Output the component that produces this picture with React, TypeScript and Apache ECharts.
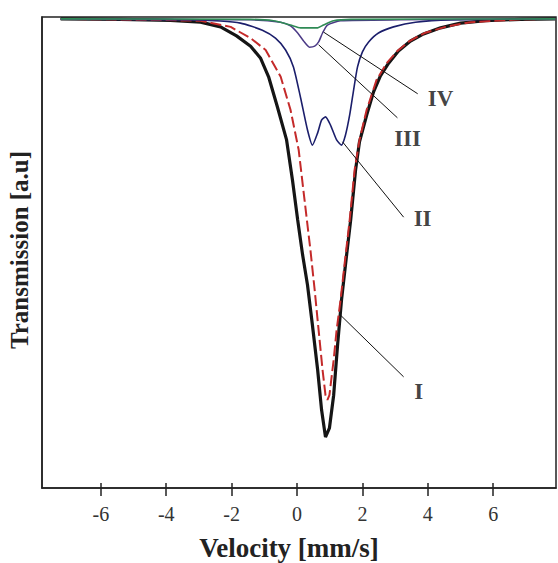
import React, { useEffect, useRef } from "react";
import * as echarts from "echarts";

// Curve I (black, thick)
const vI = [-7.23,-5.40,-3.87,-2.95,-2.34,-1.85,-1.42,-1.12,-0.87,-0.60,-0.32,-0.14,0.02,0.17,0.32,0.47,0.63,0.75,0.87,0.99,1.12,1.24,1.36,1.48,1.64,1.79,1.91,2.13,2.34,2.55,2.80,3.10,3.47,3.87,4.39,5.00,5.76,6.83,7.90];
const tI = [99.6,99.5,99.3,98.9,97.9,96.0,93.8,91.3,87.3,80.9,73.9,65.4,56.9,49.5,43.1,34.6,25.1,16.6,10.8,12.7,19.7,30.4,39.9,47.3,56.9,67.5,73.5,79.2,84.1,87.5,90.2,92.8,94.9,96.4,97.7,98.7,99.2,99.5,99.6];

// Red dashed curve
const vRed = [-7.23,-4.48,-2.95,-2.03,-1.42,-0.96,-0.50,-0.20,0.05,0.23,0.41,0.54,0.66,0.78,0.87,0.93,0.99,1.12,1.21,1.33,1.45,1.61,1.76,1.91,2.13,2.43,2.74,3.07,3.44,3.90,4.54,5.31,6.83,7.90];
const tRed = [99.6,99.4,99.2,97.9,95.5,93.0,87.3,80.3,71.8,61.1,50.5,42.0,33.5,25.1,19.7,18.7,19.7,27.2,33.5,39.9,47.3,56.9,67.5,73.9,80.3,86.6,90.2,92.8,94.9,96.6,97.9,98.9,99.5,99.6];

// Curve II (navy, double dip)
const vII = [-7.23,-2.95,-1.73,-1.06,-0.66,-0.35,-0.11,0.11,0.32,0.47,0.63,0.75,0.87,1.02,1.21,1.36,1.48,1.61,1.73,1.85,2.00,2.19,2.49,2.95,3.62,4.69,7.90];
const tII = [99.6,99.4,98.7,97.2,95.5,93.0,89.4,82.8,76.0,72.8,75.4,78.1,78.8,77.1,73.9,72.8,74.9,79.2,84.5,89.4,92.6,94.7,96.6,97.9,98.9,99.4,99.6];

// Curve III (purple, small dip)
const vIII = [-7.23,-1.42,-0.50,-0.20,0.02,0.20,0.38,0.54,0.66,0.78,0.93,1.33,3.16,7.90];
const tIII = [99.5,99.4,98.9,98.1,96.6,94.9,93.6,93.8,94.7,96.6,98.3,99.2,99.4,99.6];

// Curve IV (green, shallow)
const vIV = [-7.23,-1.42,-0.72,-0.20,0.11,0.63,0.81,1.12,1.64,7.90];
const tIV = [99.6,99.5,99.2,98.3,97.7,97.7,98.3,99.2,99.5,99.6];

// Tick labels
const xTicks = [-6, -4, -2, 0, 2, 4, 6];

// Annotations: label, label position, leader start (on curve), leader end
const annNames = ["IV", "III", "II", "I"];
const annLabelPos = [[4.39, 82.6], [3.38, 74.1], [3.84, 57.3], [3.72, 20.4]];
const annFrom = [[0.81, 96.8], [0.66, 94.1], [1.39, 73.5], [1.33, 36.7]];
const annTo = [[3.69, 83.7], [3.07, 78.6], [3.26, 57.5], [3.26, 23.6]];

const SERIF = '"Liberation Serif", "DejaVu Serif", serif';

function zip(a: number[], b: number[]) {
  return a.map((v, i) => [v, b[i]]);
}

export default function App() {
  const ref = useRef<HTMLDivElement>(null);
  useEffect(() => {
    if (!ref.current) return;
    const chart = echarts.init(ref.current, null, { renderer: "svg" });
    const lineBase = { type: "line", showSymbol: false, symbol: "none", smooth: 0.2, z: 3 };
    chart.setOption({
      animation: false,
      backgroundColor: "#ffffff",
      grid: {
        left: 42, top: 17, right: 2, bottom: 75,
        show: true, borderColor: "#222", borderWidth: 1.5, backgroundColor: "#fff",
      },
      xAxis: [
        {
          type: "value", min: -7.8, max: 7.92,
          splitLine: { show: false },
          axisLine: { show: true, onZero: false, lineStyle: { color: "#222", width: 1.5 } },
          axisTick: { show: true, customValues: xTicks, length: 8, lineStyle: { color: "#222", width: 1.5 } },
          axisLabel: {
            customValues: xTicks, margin: 16, fontSize: 20, fontFamily: SERIF, color: "#333",
          },
        },
        {
          type: "value", min: -7.8, max: 7.92, position: "bottom",
          splitLine: { show: false },
          axisLine: { show: false, onZero: false },
          axisTick: { show: true, inside: true, customValues: xTicks, length: 5, lineStyle: { color: "#222", width: 1.5 } },
          axisLabel: { show: false },
        },
      ],
      yAxis: {
        type: "value", min: 0, max: 100,
        splitLine: { show: false },
        axisLine: { show: true, onZero: false, lineStyle: { color: "#222", width: 1.5 } },
        axisTick: { show: false },
        axisLabel: { show: false },
      },
      graphic: [
        {
          type: "text", x: 19, y: 250, rotation: Math.PI / 2,
          style: {
            text: "Transmission [a.u]", align: "center", verticalAlign: "middle",
            fontSize: 25, fontWeight: "bold", fontFamily: SERIF, fill: "#222",
          },
        },
        {
          type: "text", x: 289, y: 548,
          style: {
            text: "Velocity [mm/s]", align: "center", verticalAlign: "middle",
            fontSize: 27, fontWeight: "bold", fontFamily: SERIF, fill: "#222",
          },
        },
      ],
      series: [
        { ...lineBase, name: "I", data: zip(vI, tI), smooth: false, lineStyle: { color: "#151515", width: 3.2 } },
        { ...lineBase, name: "fit", data: zip(vRed, tRed), smooth: false, lineStyle: { color: "#c42a2a", width: 2, type: [11, 4] } },
        { ...lineBase, name: "II", data: zip(vII, tII), lineStyle: { color: "#1b1e6b", width: 1.6 } },
        { ...lineBase, name: "III", data: zip(vIII, tIII), lineStyle: { color: "#4b3a86", width: 1.5 } },
        { ...lineBase, name: "IV", data: zip(vIV, tIV), lineStyle: { color: "#2f8a55", width: 1.6 } },
        {
          type: "lines", coordinateSystem: "cartesian2d", z: 4,
          lineStyle: { color: "#111", width: 1, opacity: 1 },
          data: annFrom.map((f, i) => ({ coords: [f, annTo[i]] })),
        },
        {
          type: "scatter", symbolSize: 0, z: 5,
          data: annNames.map((n, i) => ({ name: n, value: annLabelPos[i] })),
          label: {
            show: true, position: "inside", formatter: "{b}",
            fontSize: 23, fontWeight: "bold", fontFamily: SERIF, color: "#111",
          },
        },
      ],
    });
    return () => chart.dispose();
  }, []);
  return (
    <div
      ref={ref}
      style={{ position: "fixed", left: 0, top: 0, width: 558, height: 563 }}
    />
  );
}
